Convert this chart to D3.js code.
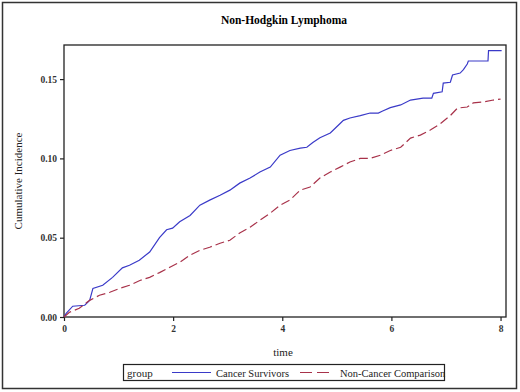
<!DOCTYPE html>
<html>
<head>
<meta charset="utf-8">
<script src="https://cdn.jsdelivr.net/npm/d3@7"></script>
<style>
  body { margin: 0; background: #fff; }
  svg { font-family: "Liberation Serif", "DejaVu Serif", serif; }
</style>
</head>
<body>
<svg id="drawing_region"></svg>
<script>
// time (years) and cumulative incidence
const survivorTime = [0, 0.04, 0.16, 0.38, 0.47, 0.53, 0.71, 0.89, 1.07, 1.20, 1.38, 1.57, 1.75, 1.88, 1.99, 2.12,
  2.31, 2.49, 2.67, 2.86, 3.04, 3.22, 3.41, 3.59, 3.78, 3.96, 4.14, 4.33, 4.45, 4.56, 4.69, 4.88, 5.06, 5.12,
  5.24, 5.43, 5.61, 5.76, 5.85, 5.98, 6.17, 6.35, 6.58, 6.74, 6.77, 6.93, 6.95, 7.08, 7.12, 7.26, 7.32, 7.39, 7.41, 7.77, 7.78, 8.02];
const survivorValue = [0, 0.0023, 0.0068, 0.0074, 0.0105, 0.018, 0.020, 0.025, 0.031, 0.0326, 0.0358, 0.041, 0.050, 0.055, 0.056, 0.060,
  0.064, 0.0705, 0.0737, 0.0768, 0.080, 0.0844, 0.0876, 0.0914, 0.0945, 0.102, 0.105, 0.1065, 0.107, 0.110, 0.113, 0.116, 0.122, 0.124,
  0.1255, 0.127, 0.1286, 0.1286, 0.130, 0.132, 0.1337, 0.1368, 0.138, 0.138, 0.141, 0.142, 0.1475, 0.148, 0.1526, 0.1538, 0.156, 0.1595, 0.1614, 0.1614, 0.168, 0.168];

const comparisonTime = [0, 0.10, 0.28, 0.47, 0.65, 0.84, 1.02, 1.20, 1.39, 1.57, 1.75, 1.94, 2.12, 2.31, 2.49, 2.67,
  2.86, 3.04, 3.22, 3.41, 3.59, 3.78, 3.96, 4.14, 4.33, 4.51, 4.69, 4.88, 5.06, 5.24, 5.43, 5.61, 5.80, 5.98,
  6.17, 6.35, 6.53, 6.72, 6.90, 7.08, 7.21, 7.39, 7.50, 7.69, 7.87, 8.00];
const comparisonValue = [0, 0.003, 0.0055, 0.0105, 0.0137, 0.0156, 0.018, 0.020, 0.023, 0.025, 0.028, 0.0314, 0.0345, 0.039, 0.042, 0.044,
  0.0465, 0.0484, 0.053, 0.0566, 0.061, 0.0655, 0.0705, 0.0737, 0.080, 0.082, 0.0876, 0.0914, 0.0945, 0.0977, 0.100, 0.100, 0.102, 0.105,
  0.107, 0.1128, 0.1147, 0.118, 0.122, 0.127, 0.1317, 0.1324, 0.135, 0.1356, 0.1368, 0.1374];

const xTicks = [0, 2, 4, 6, 8];
const yTicks = [0, 0.05, 0.10, 0.15];
const groupNames = ["Cancer Survivors", "Non-Cancer Comparison"];

const W = 520, H = 392;
const margin = {top: 45, right: 14, bottom: 75, left: 64};
const innerW = W - margin.left - margin.right;
const innerH = H - margin.top - margin.bottom;

const svg = d3.select("#drawing_region").attr("width", W).attr("height", H);

// outer frame
svg.append("rect").attr("x", 2.5).attr("y", 2.5).attr("width", 514).attr("height", 386)
  .attr("fill", "none").attr("stroke", "#333").attr("stroke-width", 1.5);

svg.append("text").attr("x", 284).attr("y", 24).attr("text-anchor", "middle")
  .attr("font-size", "11.5px").attr("font-weight", "bold").text("Non-Hodgkin Lymphoma");

const chart = svg.append("g").attr("transform", `translate(${margin.left},${margin.top})`);

const xscale = d3.scaleLinear().domain([0, 8.1]).range([0, innerW]);
const yscale = d3.scaleLinear().domain([0, 0.1715]).range([innerH, 0]);

const xaxis = d3.axisBottom(xscale).tickValues(xTicks).tickFormat(d3.format("d")).tickSize(4).tickSizeOuter(0);
const yaxis = d3.axisLeft(yscale).tickValues(yTicks).tickFormat(d3.format(".2f")).tickSize(4).tickSizeOuter(0);

const xg = chart.append("g").attr("transform", `translate(0,${innerH})`).call(xaxis);
const yg = chart.append("g").call(yaxis);
[xg, yg].forEach(g => {
  g.select(".domain").remove();
  g.selectAll("line").attr("stroke", "#222").attr("stroke-width", 1.2);
  g.selectAll("text").attr("font-family", "Liberation Serif").attr("font-size", "9.5px")
    .attr("font-weight", "bold").attr("fill", "#333");
});
xg.selectAll("text").attr("y", 8).attr("dy", "0.71em");
yg.selectAll("text").attr("x", -7);

chart.append("rect").attr("width", innerW).attr("height", innerH)
  .attr("fill", "none").attr("stroke", "#222").attr("stroke-width", 1.3);

const line = d3.line()
  .x(d => xscale(d[0])).y(d => yscale(d[1]));

chart.append("path").datum(d3.zip(survivorTime, survivorValue))
  .attr("fill", "none").attr("stroke", "#3a3ac8").attr("stroke-width", 1.2).attr("d", line);

chart.append("path").datum(d3.zip(comparisonTime, comparisonValue))
  .attr("fill", "none").attr("stroke", "#a8324a").attr("stroke-width", 1.2)
  .attr("stroke-dasharray", "9,4").attr("d", line);

svg.append("text").attr("x", 283).attr("y", 356).attr("text-anchor", "middle")
  .attr("font-size", "11px").attr("fill", "#222").text("time");

svg.append("text").attr("transform", "translate(22,181) rotate(-90)").attr("text-anchor", "middle")
  .attr("font-size", "11px").attr("fill", "#222").text("Cumulative Incidence");

// legend
const leg = svg.append("g");
leg.append("rect").attr("x", 123.5).attr("y", 364.5).attr("width", 321).attr("height", 16)
  .attr("fill", "none").attr("stroke", "#222").attr("stroke-width", 1.2);
leg.append("text").attr("x", 127).attr("y", 377).attr("font-size", "11px").attr("fill", "#222").text("group");
leg.append("line").attr("x1", 172).attr("x2", 211).attr("y1", 372.5).attr("y2", 372.5)
  .attr("stroke", "#3a3ac8").attr("stroke-width", 1.1);
leg.append("text").attr("x", 216).attr("y", 376.5).attr("font-size", "10.5px").attr("fill", "#222").text(groupNames[0]);
leg.append("line").attr("x1", 300).attr("x2", 334).attr("y1", 372.5).attr("y2", 372.5)
  .attr("stroke", "#a8324a").attr("stroke-width", 1.1).attr("stroke-dasharray", "12,5");
leg.append("text").attr("x", 340).attr("y", 376.5).attr("font-size", "10.5px").attr("fill", "#222").text(groupNames[1]);
</script>
</body>
</html>
